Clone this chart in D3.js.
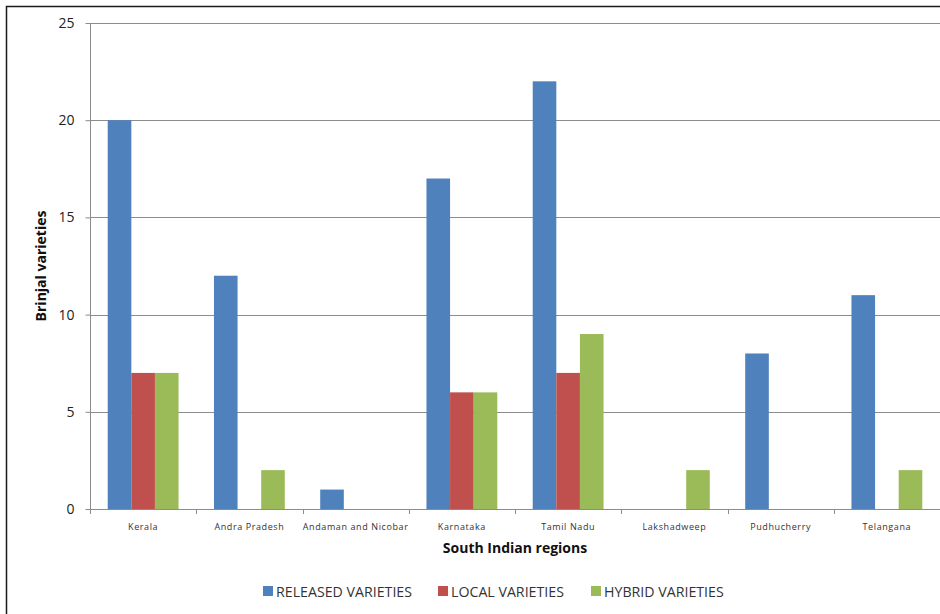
<!DOCTYPE html>
<html><head><meta charset="utf-8">
<script src="https://cdn.jsdelivr.net/npm/d3@7"></script>
<style>body{margin:0;background:#fff}svg{display:block}</style>
</head><body>
<script>
const categories = ["Kerala","Andra Pradesh","Andaman and Nicobar","Karnataka","Tamil Nadu","Lakshadweep","Pudhucherry","Telangana"];
const seriesNames = ["RELEASED VARIETIES","LOCAL VARIETIES","HYBRID VARIETIES"];
const released = [20,12,1,17,22,0,8,11];
const local = [7,0,0,6,7,0,0,0];
const hybrid = [7,2,0,6,9,2,0,2];
const colors = ["#4F81BD","#C0504D","#9BBB59"];
const yTicks = [0,5,10,15,20,25];

const W=940,H=614;
const svg=d3.select("body").append("svg").attr("width",W).attr("height",H);
const font="'Open Sans', 'Liberation Sans', sans-serif";

// frame
svg.append("path").attr("d","M6.5,614 V6.5 H940").attr("fill","none").attr("stroke","#1a1a1a").attr("stroke-width",1.5);

const m={l:90,r:940,t:23,b:509};
const x=d3.scaleBand().domain(categories).range([m.l,m.r]).paddingInner(0).paddingOuter(0);
const y=d3.scaleLinear().domain([0,25]).range([m.b,m.t]);
const groupW=x.bandwidth()*(3/4.5);
const x1=d3.scaleBand().domain([0,1,2]).range([0,groupW]);

// gridlines
svg.append("g").selectAll("line").data(yTicks.filter(d=>d>0)).join("line")
 .attr("x1",m.l).attr("x2",m.r).attr("y1",d=>Math.round(y(d))+0.5).attr("y2",d=>Math.round(y(d))+0.5)
 .attr("stroke","#8c8c8c").attr("stroke-width",1);

// bars
const data=[released,local,hybrid];
categories.forEach((c,i)=>{
  const gx=x(c)+(x.bandwidth()-groupW)/2;
  data.forEach((s,j)=>{
    if(s[i]>0) svg.append("rect").attr("x",gx+x1(j)).attr("width",x1.bandwidth())
      .attr("y",y(s[i])).attr("height",y(0)-y(s[i])).attr("fill",colors[j]);
  });
});

// y axis
const yAxis=svg.append("g").attr("transform",`translate(${m.l+0.5},0)`)
 .call(d3.axisLeft(y).tickValues(yTicks).tickSize(5).tickPadding(11).tickFormat(d3.format("d")));
yAxis.select(".domain").attr("stroke","#8c8c8c").attr("d",`M0,${m.t}V${m.b}`);
yAxis.selectAll(".tick line").attr("stroke","#8c8c8c");
yAxis.selectAll("text").attr("font-family",font).attr("font-size",14).attr("fill","#222");

// x axis
const xAxis=svg.append("g").attr("transform",`translate(0,${Math.round(y(0))+0.5})`)
 .call(d3.axisBottom(x).tickSize(0).tickPadding(14));
xAxis.select(".domain").attr("stroke","#8c8c8c").attr("d",`M${m.l},0H${m.r}`);
xAxis.selectAll("text").attr("font-family",font).attr("font-size",9).attr("fill","#333").attr("letter-spacing","0.6px");
// category boundary ticks
svg.append("g").selectAll("line").data(categories.map(c=>x(c)).concat([m.r])).join("line")
 .attr("x1",d=>Math.round(d)+0.5).attr("x2",d=>Math.round(d)+0.5)
 .attr("y1",Math.round(y(0))).attr("y2",Math.round(y(0))+5).attr("stroke","#8c8c8c");

// axis titles
svg.append("text").attr("x",(m.l+m.r)/2).attr("y",553).attr("text-anchor","middle")
 .attr("font-family",font).attr("font-weight","bold").attr("font-size",14).attr("fill","#111").text("South Indian regions");
svg.append("text").attr("transform",`translate(46,${(m.t+m.b)/2}) rotate(-90)`).attr("text-anchor","middle")
 .attr("font-family",font).attr("font-weight","bold").attr("font-size",14).attr("fill","#111").text("Brinjal varieties");

// legend
const legX=[263,438,591];
seriesNames.forEach((n,i)=>{
  svg.append("rect").attr("x",legX[i]).attr("y",586).attr("width",10).attr("height",10).attr("fill",colors[i]);
  svg.append("text").attr("x",legX[i]+13).attr("y",596.5).attr("font-family",font).attr("font-size",14.2)
   .attr("fill","#333").text(n);
});
</script>
</body></html>
